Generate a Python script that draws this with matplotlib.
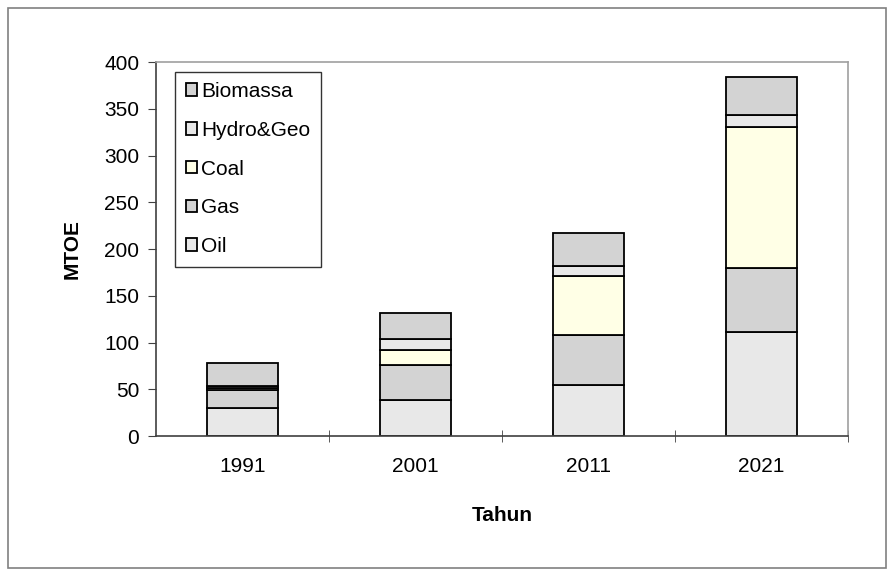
import matplotlib

matplotlib.use("Agg")
import matplotlib.pyplot as plt
from matplotlib.patches import Rectangle

plt.rcParams["font.family"] = ["Liberation Sans", "DejaVu Sans"]

YEARS = ["1991", "2001", "2011", "2021"]
SERIES = ["Oil", "Gas", "Coal", "Hydro&Geo", "Biomassa"]
OIL = [30, 39, 55, 111]
GAS = [19, 37, 53, 69]
COAL = [2, 16, 63, 151]
HYDRO = [2.5, 12, 10.5, 13]
BIOMASS = [24.5, 28, 35.5, 40]
COLORS = ["#e8e8e8", "#d3d3d3", "#ffffe6", "#e8e8e8", "#d3d3d3"]

FS = 15

fig = plt.figure(figsize=(8.94, 5.76), dpi=100)
ax = fig.add_axes([0.1745, 0.243, 0.774, 0.649])

# outer chart frame
fig.patches.append(Rectangle((0.009, 0.014), 0.982, 0.972, transform=fig.transFigure,
                             fill=False, edgecolor="#808080", linewidth=1.2))

xs = range(len(YEARS))
bottom = [0.0] * len(YEARS)
handles = []
for name, vals, color in zip(SERIES, [OIL, GAS, COAL, HYDRO, BIOMASS], COLORS):
    h = ax.bar(xs, vals, 0.41, bottom=bottom, color=color, edgecolor="black",
               linewidth=1.3, label=name)
    handles.append(h)
    bottom = [b + v for b, v in zip(bottom, vals)]

ax.set_xlim(-0.5, 3.5)
ax.set_ylim(0, 400)
ax.set_yticks(range(0, 401, 50))
ax.set_xticks(xs)
ax.set_xticklabels(YEARS)
ax.set_xticks([0.5, 1.5, 2.5, 3.5], minor=True)
ax.tick_params(axis="x", which="major", length=0, labelsize=FS, pad=15)
ax.tick_params(axis="x", which="minor", length=8, direction="inout", color="#404040")
ax.tick_params(axis="y", length=6, direction="out", labelsize=FS, pad=6, color="#404040")

for s in ["top", "right"]:
    ax.spines[s].set_color("#a0a0a0")
    ax.spines[s].set_linewidth(1.2)
for s in ["left", "bottom"]:
    ax.spines[s].set_color("#404040")
    ax.spines[s].set_linewidth(1.2)

ax.set_ylabel("MTOE", fontsize=FS, fontweight="bold", labelpad=16)
ax.set_xlabel("Tahun", fontsize=FS, fontweight="bold", labelpad=22)

leg = ax.legend(handles[::-1], SERIES[::-1], loc="upper left",
                bbox_to_anchor=(0.028, 0.975), fontsize=FS, frameon=True,
                fancybox=False, edgecolor="black", handlelength=0.55,
                handleheight=0.55, handletextpad=0.2, labelspacing=0.95,
                borderpad=0.5, borderaxespad=0)
leg.get_frame().set_linewidth(1.0)

fig.savefig("out.png", dpi=100)
